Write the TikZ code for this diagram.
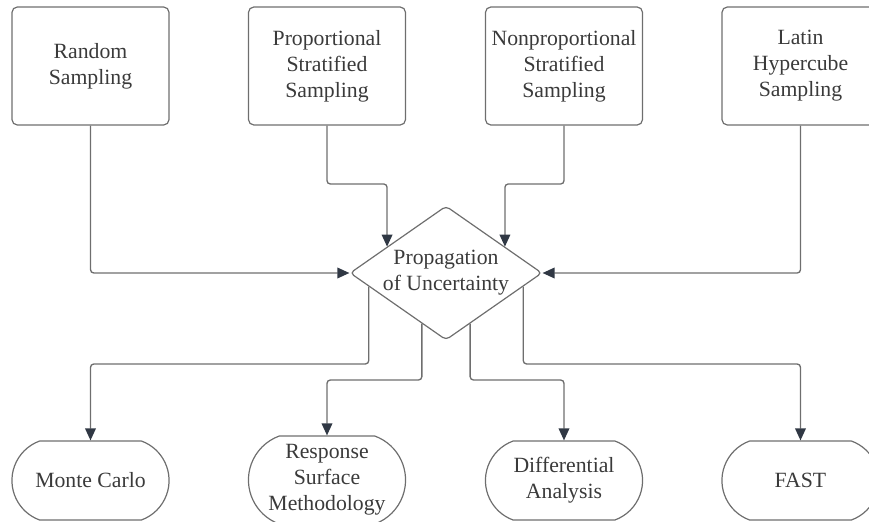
\documentclass[tikz,border=0pt]{standalone}
\usepackage{fontspec}
\setmainfont{Liberation Serif}
\usetikzlibrary{arrows.meta,shapes.geometric,shapes.misc,calc}

\definecolor{linec}{RGB}{110,110,110}
\definecolor{tipc}{RGB}{48,56,68}
\definecolor{txtc}{RGB}{58,58,58}

\tikzset{every picture/.style={line width=0.75pt}}
\tikzset{
  lbl/.style={text=txtc, align=center, font=\fontsize{16.3pt}{19.5pt}\selectfont},
  sbox/.style={lbl, draw=linec, line width=0.9pt, rounded corners=4pt, minimum width=117.75pt, minimum height=88.5pt},
  pill/.style={lbl, draw=linec, line width=0.9pt, rounded rectangle, rounded rectangle arc length=140, minimum width=124.5pt, minimum height=59.25pt},
  conn/.style={draw=linec, line width=1pt, rounded corners=2.5pt, -{Triangle[length=9pt,width=8pt,color=tipc]}}
}

\begin{document}
\begin{tikzpicture}[x=0.75pt,y=0.75pt,yscale=-1,xscale=1]
\useasboundingbox (0,0) rectangle (869,522);
\clip (0,0) rectangle (869,522);

%Shape: sampling boxes
\node[sbox] (rs)  at (90.5,66)  {Random\\Sampling};
\node[sbox] (pss) at (327,66)   {Proportional\\Stratified\\Sampling};
\node[sbox] (nss) at (564,66)   {Nonproportional\\Stratified\\Sampling};
\node[sbox] (lhs) at (800.5,66) {Latin\\Hypercube\\Sampling};

%Shape: Diamond
\node[lbl, draw=linec, line width=0.9pt, diamond, aspect=1.43, inner sep=0pt, rounded corners=3pt,
      minimum width=144pt, minimum height=100.5pt] (puc) at (446,273) {Propagation\\of Uncertainty};

%Shape: methods
\node[pill] (mc)  at (90.5,480.5)  {Monte Carlo};
\node[pill, minimum height=66pt] (rsm) at (327,480) {Response\\Surface\\Methodology};
\node[pill] (da)  at (564,480.5)   {Differential\\Analysis};
\node[pill] (fst) at (800.5,480.5) {FAST};

% bend levels and diamond ports
\coordinate (kA) at (0,184);
\coordinate (kB) at (0,364);
\coordinate (kC) at (0,380);
\coordinate (i2) at ($(puc.west)!0.39!(puc.north)$);
\coordinate (i3) at ($(puc.east)!0.39!(puc.north)$);
\coordinate (o1) at ($(puc.west)!0.2!(puc.south)$);
\coordinate (o2) at ($(puc.west)!0.75!(puc.south)$);
\coordinate (o3) at ($(puc.east)!0.75!(puc.south)$);
\coordinate (o4) at ($(puc.east)!0.2!(puc.south)$);

%Connectors: inputs
\draw[conn] (rs.south) |- (puc.west);
\draw[conn] (pss.south) |- (kA -| i2) -- (i2);
\draw[conn] (nss.south) |- (kA -| i3) -- (i3);
\draw[conn] (lhs.south) |- (puc.east);

%Connectors: outputs
\draw[conn] (o1) |- (kB -| mc.north) -- (mc.north);
\draw[conn] (o2) |- (kC -| rsm.north) -- (rsm.north);
\draw[conn] (o3) |- (kC -| da.north) -- (da.north);
\draw[conn] (o4) |- (kB -| fst.north) -- (fst.north);

\end{tikzpicture}
\end{document}
